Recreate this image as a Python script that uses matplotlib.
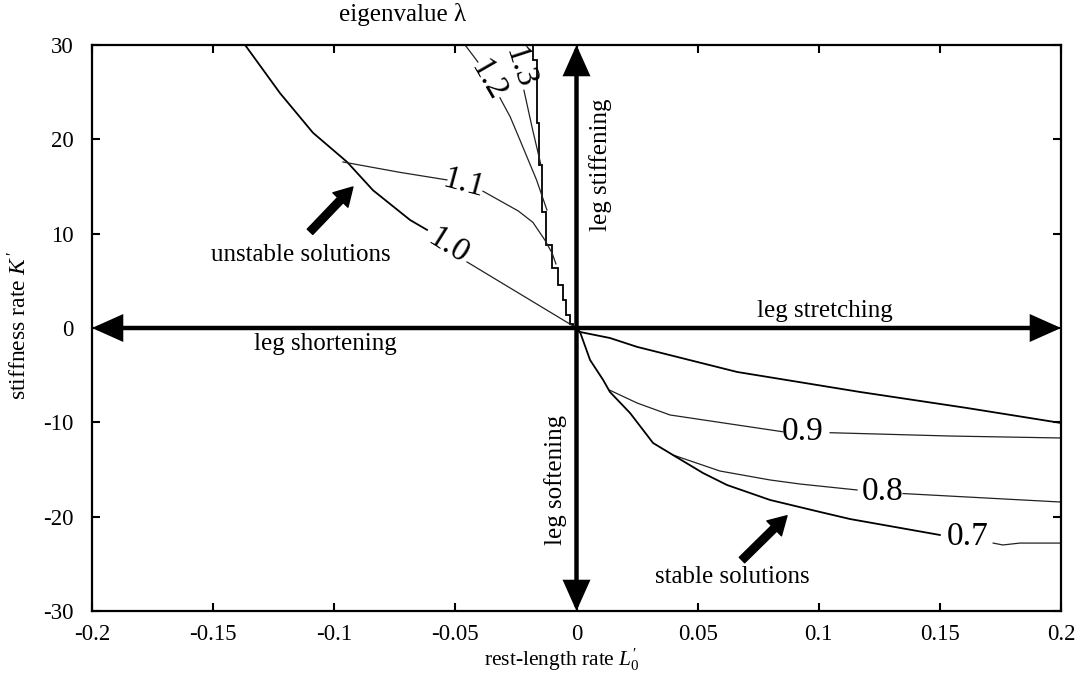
import matplotlib
matplotlib.use("Agg")
import matplotlib.pyplot as plt

plt.rcParams["font.family"] = ["Liberation Serif", "DejaVu Serif"]
plt.rcParams["mathtext.fontset"] = "custom"
plt.rcParams["mathtext.rm"] = "Liberation Serif"
plt.rcParams["mathtext.it"] = "Liberation Serif:italic"

# ---- axis ticks -------------------------------------------------------
x_ticks = [-0.2, -0.15, -0.1, -0.05, 0, 0.05, 0.1, 0.15, 0.2]
x_tick_labels = ["-0.2", "-0.15", "-0.1", "-0.05", "0", "0.05", "0.1", "0.15", "0.2"]
y_ticks = [-30, -20, -10, 0, 10, 20, 30]
y_tick_labels = ["-30", "-20", "-10", "0", "10", "20", "30"]

# ---- region edges (thick) --------------------------------------------
# upper edge of the unstable wedge (stair-stepped grid boundary)
edge_up_x = [-0.0180, -0.0163, -0.0155, -0.0142, -0.0126, -0.0101, -0.0076,
             -0.0056, -0.0043, -0.0027, -0.0014, 0.0]
edge_up_y = [30.0, 28.4, 21.7, 17.3, 12.3, 8.8, 6.4, 4.6, 3.0, 1.4, 0.4, 0.0]

# upper edge of the stable wedge
edge_low_x = [0.0, 0.0014, 0.0138, 0.025, 0.0663, 0.117, 0.1612, 0.2]
edge_low_y = [0.0, -0.42, -1.06, -2.0, -4.66, -6.78, -8.48, -10.07]

# ---- eigenvalue contours ---------------------------------------------
# lambda = 1.0 (left edge of the unstable region), split at its label
lam10_a_x = [-0.1368, -0.1224, -0.1088, -0.0947, -0.084, -0.0687, -0.0617]
lam10_a_y = [30.0, 24.9, 20.7, 17.6, 14.6, 11.45, 10.4]
lam10_b_x = [-0.0452, 0.0]
lam10_b_y = [7.0, 0.0]
lam10_label = (-0.053, 8.7, -32)

lam11_a_x = [-0.0964, -0.0729, -0.0535]
lam11_a_y = [17.6, 16.5, 15.7]
lam11_b_x = [-0.0386, -0.0240, -0.0180, -0.0130, -0.0100, -0.0085]
lam11_b_y = [14.5, 12.4, 11.2, 9.3, 7.9, 6.8]
lam11_label = (-0.0465, 15.3, -15)

lam12_a_x = [-0.046, -0.0407]
lam12_a_y = [30.0, 28.2]
lam12_b_x = [-0.0316, -0.0274, -0.0233, -0.0165, -0.0122]
lam12_b_y = [24.4, 22.4, 19.9, 15.7, 12.5]
lam12_label = (-0.0368, 26.3, -60)

lam13_b_x = [-0.0217, -0.0181, -0.0147]
lam13_b_y = [25.2, 21.0, 17.3]
lam13_label = (-0.0236, 27.6, -72)

# lambda = 0.9
lam09_a_x = [0.0138, 0.025, 0.0386, 0.0663, 0.0852]
lam09_a_y = [-6.6, -7.95, -9.22, -10.28, -11.0]
lam09_b_x = [0.1047, 0.154, 0.2]
lam09_b_y = [-11.1, -11.45, -11.66]
lam09_label = (0.0935, -11.0, 0)

# lambda = 0.8
lam08_a_x = [0.0398, 0.0592, 0.0799, 0.0923, 0.1158]
lam08_a_y = [-13.46, -15.16, -16.11, -16.54, -17.17]
lam08_b_x = [0.1348, 0.2]
lam08_b_y = [-17.55, -18.45]
lam08_label = (0.1262, -17.4, 0)

# lambda = 0.7 (lower edge of the stable region)
lam07_a_x = [0.0, 0.0016, 0.0056, 0.011, 0.0138, 0.0221, 0.0316, 0.0398,
             0.0522, 0.0621, 0.0799, 0.1005, 0.1129, 0.15]
lam07_a_y = [0.0, -0.53, -3.39, -5.51, -6.78, -9.01, -12.19, -13.46,
             -15.37, -16.64, -18.23, -19.5, -20.25, -21.94]
lam07_b_x = [0.172, 0.176, 0.183, 0.2]
lam07_b_y = [-22.8, -23.0, -22.8, -22.8]
lam07_label = (0.1616, -22.1, 0)

# ---- figure -----------------------------------------------------------
fig = plt.figure(figsize=(10.8, 6.79), dpi=100)
ax = fig.add_axes([92 / 1080, 1 - 611 / 679, 969 / 1080, 566 / 679])
ax.set_xlim(-0.2, 0.2)
ax.set_ylim(-30, 30)

thick = dict(color="black", lw=1.3, solid_joinstyle="miter")
thin = dict(color="#222222", lw=0.9)

ax.plot(edge_up_x, edge_up_y, drawstyle="steps-pre", **thick)
ax.plot(edge_low_x, edge_low_y, **thick)

ax.plot(lam10_a_x, lam10_a_y, **thick)
ax.plot(lam10_b_x, lam10_b_y, **thin)
ax.plot(lam11_a_x, lam11_a_y, **thin)
ax.plot(lam11_b_x, lam11_b_y, **thin)
ax.plot(lam12_a_x, lam12_a_y, **thin)
ax.plot(lam12_b_x, lam12_b_y, **thin)
ax.plot(lam13_b_x, lam13_b_y, **thin)
ax.plot(lam09_a_x, lam09_a_y, **thin)
ax.plot(lam09_b_x, lam09_b_y, **thin)
ax.plot(lam08_a_x, lam08_a_y, **thin)
ax.plot(lam08_b_x, lam08_b_y, **thin)
ax.plot(lam07_a_x, lam07_a_y, **thick)
ax.plot(lam07_b_x, lam07_b_y, **thin)

contour_labels = [("1.0", lam10_label), ("1.1", lam11_label),
                  ("1.2", lam12_label), ("1.3", lam13_label),
                  ("0.9", lam09_label), ("0.8", lam08_label),
                  ("0.7", lam07_label)]
for txt, (lx, ly, rot) in contour_labels:
    ax.text(lx, ly, txt, fontsize=24, ha="center", va="center",
            rotation=rot, rotation_mode="anchor", clip_on=False, zorder=5)

# ---- double-headed axis arrows ---------------------------------------
arrow_style = dict(arrowstyle="<|-|>,head_length=0.85,head_width=0.38",
                   lw=3.2, color="black", shrinkA=0, shrinkB=0,
                   mutation_scale=20, joinstyle="miter")
ax.annotate("", xy=(0.2, 0), xytext=(-0.2, 0), arrowprops=arrow_style,
            annotation_clip=False, zorder=6)
ax.annotate("", xy=(0, 30), xytext=(0, -30), arrowprops=arrow_style,
            annotation_clip=False, zorder=6)

ax.text(0.1026, 1.8, "leg stretching", fontsize=18, ha="center", va="center")
ax.text(-0.1038, -1.7, "leg shortening", fontsize=18, ha="center", va="center")
ax.text(0.0099, 17.3, "leg stiffening", fontsize=18, ha="center", va="center",
        rotation=90)
ax.text(-0.0085, -16.1, "leg softening", fontsize=18, ha="center", va="center",
        rotation=90)

# ---- pointer arrows ---------------------------------------------------
pointer = dict(facecolor="black", edgecolor="black", width=5.5,
               headwidth=15, headlength=13, shrink=0)
ax.annotate("", xy=(-0.0923, 14.95), xytext=(-0.110, 10.2), arrowprops=pointer)
ax.text(-0.114, 7.7, "unstable solutions", fontsize=18, ha="center", va="center")

ax.annotate("", xy=(0.0869, -19.9), xytext=(0.0683, -24.6), arrowprops=pointer)
ax.text(0.0645, -26.4, "stable solutions", fontsize=18, ha="center", va="center")

# ---- ticks, spines, labels -------------------------------------------
ax.set_xticks(x_ticks)
ax.set_xticklabels(x_tick_labels)
ax.set_yticks(y_ticks)
ax.set_yticklabels(y_tick_labels)
ax.tick_params(direction="in", length=6, width=1.5, top=True, right=True,
               labelsize=16.5)
ax.tick_params(axis="x", pad=9)
ax.tick_params(axis="y", pad=13)
for sp in ax.spines.values():
    sp.set_linewidth(1.6)

fig.text(562 / 1080, 1 - 660 / 679, r"rest-length rate $L^{\prime}_{\mathit{0}}$",
         fontsize=15.5, ha="center", va="center")
fig.text(20 / 1080, 1 - 325 / 679, r"stiffness rate $K\,^{\prime}$",
         fontsize=17, ha="center", va="center", rotation=90)
fig.text(403 / 1080, 1 - 15 / 679, "eigenvalue λ", fontsize=18,
         ha="center", va="center")

fig.savefig("out.png", dpi=100)
